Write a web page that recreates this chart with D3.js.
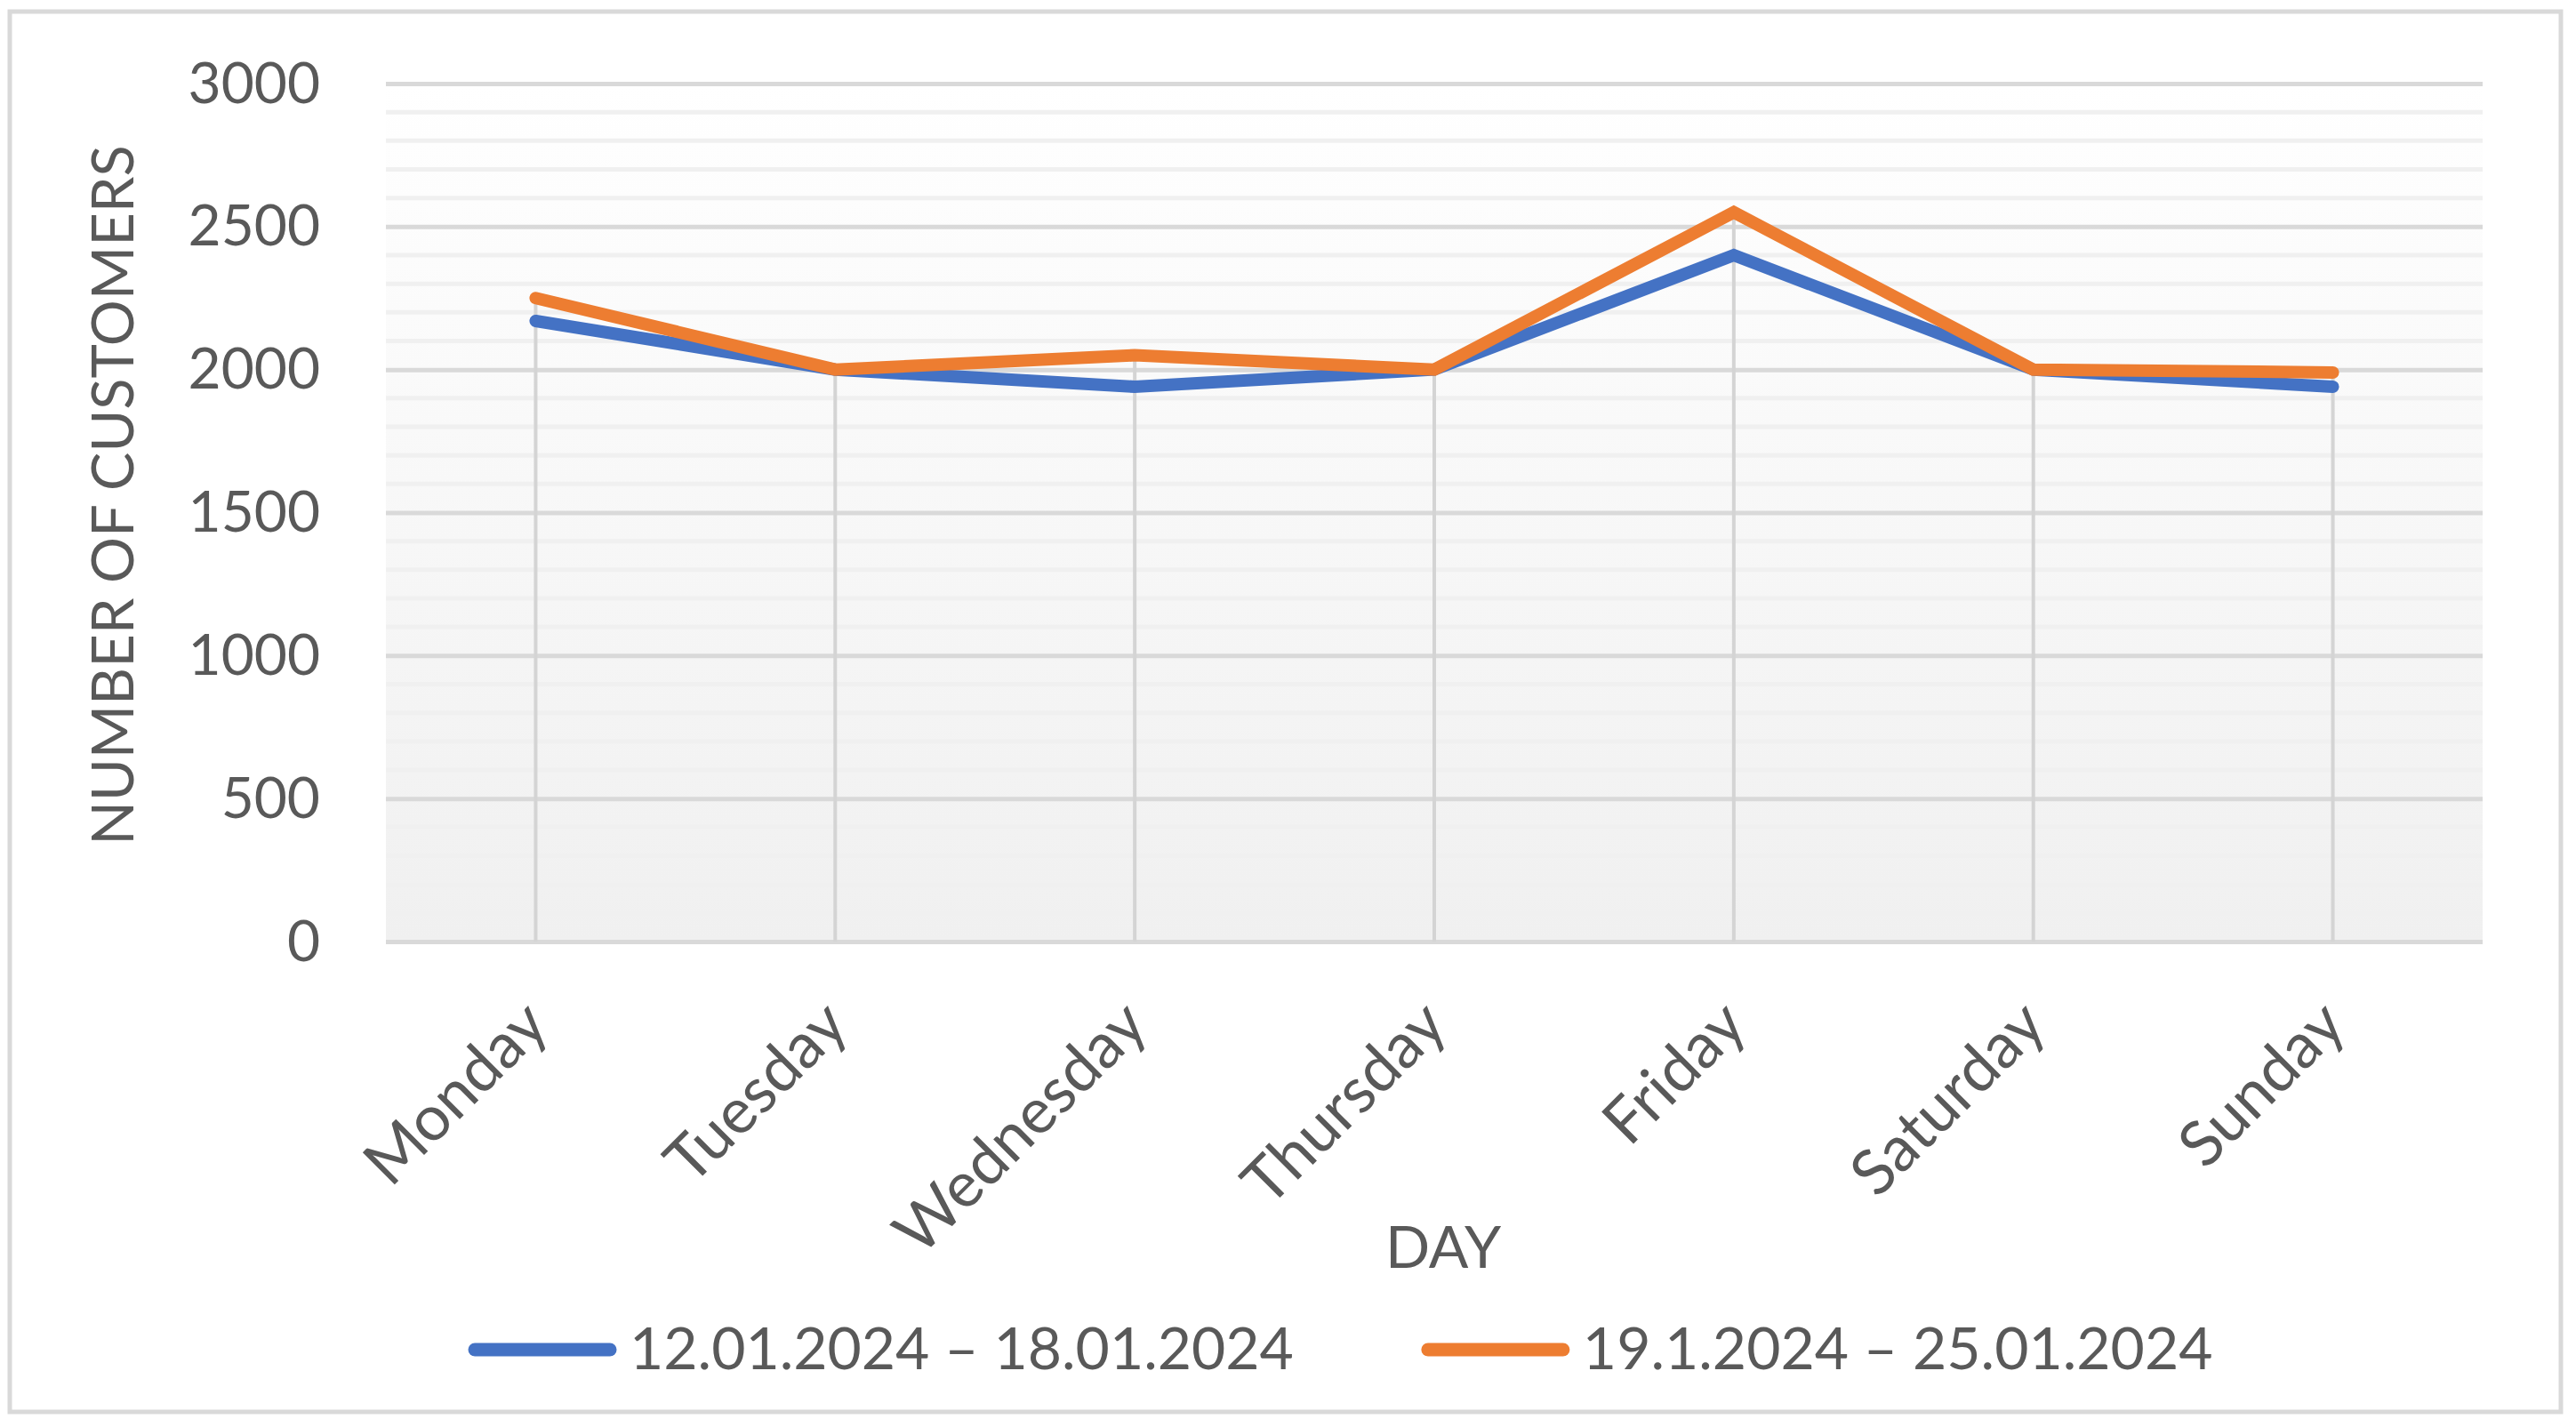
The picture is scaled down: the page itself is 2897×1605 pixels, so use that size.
<!DOCTYPE html>
<html><head><meta charset="utf-8">
<script src="https://cdn.jsdelivr.net/npm/d3@7"></script>
<style>
html,body{margin:0;padding:0;background:#fff;}
svg{display:block;}
text{font-family:Lato,"Open Sans",sans-serif;fill:#595959;}
</style>
</head><body>
<svg id="chart" width="2897" height="1605"></svg>
<script>
// ---- data ----
const days = ["Monday","Tuesday","Wednesday","Thursday","Friday","Saturday","Sunday"];
const week1 = [2170,2000,1940,2000,2400,2000,1940];
const week2 = [2250,2000,2050,2000,2550,2000,1990];
const seriesNames = ["12.01.2024 – 18.01.2024","19.1.2024 – 25.01.2024"];
const seriesColors = ["#4472C4","#ED7D31"];
const yTicks = [0,500,1000,1500,2000,2500,3000];
const yTitle = "NUMBER OF CUSTOMERS";
const xTitle = "DAY";

// ---- layout ----
const svg = d3.select("#chart");
const P = {left:434,right:2792,top:94,bottom:1059};
const x = d3.scalePoint().domain(days).range([P.left,P.right]).padding(0.5);
const y = d3.scaleLinear().domain([0,3000]).range([P.bottom,P.top]);

// outer border
svg.append("rect").attr("x",11).attr("y",13).attr("width",2869).attr("height",1575)
  .attr("fill","#fff").attr("stroke","#d9d9d9").attr("stroke-width",5);

// plot background gradient
const defs = svg.append("defs");
const g = defs.append("linearGradient").attr("id","bg").attr("x1",0).attr("y1",0).attr("x2",0).attr("y2",1);
g.append("stop").attr("offset","0%").attr("stop-color","#ffffff");
g.append("stop").attr("offset","100%").attr("stop-color","#f0f0f0");
svg.append("rect").attr("x",P.left).attr("y",P.top).attr("width",P.right-P.left).attr("height",P.bottom-P.top)
  .attr("fill","url(#bg)");

// minor gridlines
const minor = y.ticks(30).filter(v=>yTicks.indexOf(v)<0);
svg.append("g").selectAll("line").data(minor).join("line")
  .attr("x1",P.left).attr("x2",P.right).attr("y1",d=>y(d)).attr("y2",d=>y(d))
  .attr("stroke","#f0f0f0").attr("stroke-width",5);

// major gridlines via axis
const yAxis = svg.append("g").attr("transform",`translate(${P.left},0)`)
  .call(d3.axisLeft(y).tickValues(yTicks).tickSize(-(P.right-P.left)).tickPadding(74).tickFormat(d3.format("d")));
yAxis.select(".domain").remove();
yAxis.selectAll(".tick line").attr("stroke","#d9d9d9").attr("stroke-width",5);
yAxis.selectAll(".tick text").attr("font-size",64).attr("dy","0.33em").attr("fill","#595959")
  .style("font-family","Lato");

// drop lines
const maxVals = days.map((d,i)=>Math.max(week1[i],week2[i]));
svg.append("g").selectAll("line").data(days).join("line")
  .attr("x1",d=>x(d)).attr("x2",d=>x(d)).attr("y1",(d,i)=>y(maxVals[i])).attr("y2",y(0))
  .attr("stroke","#d4d4d4").attr("stroke-width",4);

// x axis labels
const xAxis = svg.append("g").attr("transform",`translate(0,${P.bottom})`)
  .call(d3.axisBottom(x).tickSize(0).tickPadding(0));
xAxis.select(".domain").remove();
xAxis.selectAll(".tick text")
  .attr("font-size",71).attr("fill","#595959").style("font-family","Lato")
  .attr("text-anchor","end").attr("y",0).attr("dy",0)
  .attr("transform","translate(17,97) rotate(-45)");

// lines
const line = d3.line().x((d,i)=>x(days[i])).y(d=>y(d));
[week1,week2].forEach((s,k)=>{
  svg.append("path").datum(s).attr("d",line).attr("fill","none")
    .attr("stroke",seriesColors[k]).attr("stroke-width",14)
    .attr("stroke-linecap","round").attr("stroke-linejoin","miter");
});

// axis titles
svg.append("text").attr("transform","translate(150,557) rotate(-90)")
  .attr("text-anchor","middle").attr("font-size",65).text(yTitle);
svg.append("text").attr("x",1623).attr("y",1426).attr("text-anchor","middle")
  .attr("font-size",66).text(xTitle);

// legend
let lx = 527;
const ly = 1518;
seriesNames.forEach((name,k)=>{
  svg.append("line").attr("x1",lx+7).attr("x2",lx+166-7).attr("y1",ly).attr("y2",ly)
    .attr("stroke",seriesColors[k]).attr("stroke-width",15).attr("stroke-linecap","round");
  const t = svg.append("text").attr("x",lx+181).attr("y",1540).attr("font-size",66).text(name);
  const w = t.node().getComputedTextLength();
  lx = lx + 181 + w + 144;
});
</script>
</body></html>
